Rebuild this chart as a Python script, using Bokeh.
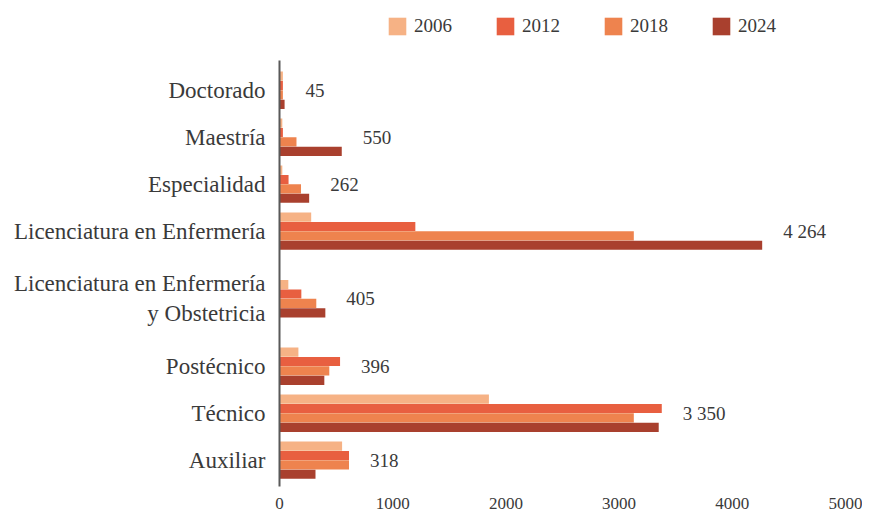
from bokeh.plotting import figure
from bokeh.layouts import column
from bokeh.models import Range1d, FixedTicker, Legend, LegendItem, ColumnDataSource
from bokeh.embed import file_html
from bokeh.resources import INLINE
from bokeh.core.properties import value

categories = ["Doctorado", "Maestría", "Especialidad", "Licenciatura en Enfermería",
              "Licenciatura en Enfermería\ny Obstetricia", "Postécnico", "Técnico", "Auxiliar"]
years = ["2006", "2012", "2018", "2024"]
v2006 = [30, 25, 25, 280, 78, 167, 1850, 553]
v2012 = [30, 30, 80, 1200, 193, 535, 3377, 614]
v2018 = [30, 150, 190, 3130, 325, 440, 3130, 614]
v2024 = [45, 550, 262, 4264, 405, 396, 3350, 318]
x_ticks = [0, 1000, 2000, 3000, 4000, 5000]

series = [v2006, v2012, v2018, v2024]
colors = ["#F6B285", "#E85F40", "#EE834E", "#A9402E"]
FONT = "Liberation Serif"
TXT = "#3a3a3a"

# category centres: two-line labels get a taller slot
positions = []
edge = -0.5
for c in categories:
    slot = 1.0 if "\n" not in c else 1.875
    positions.append(edge + slot / 2)
    edge += slot

W = 862
LEG_H = 60
FRAME_LEFT = 279

# ---- legend strip (its frame is aligned with the chart's frame by the column) ----
lg = figure(width=W, height=LEG_H, x_range=Range1d(0, 1), y_range=Range1d(0, 1),
            output_backend="svg", toolbar_location=None,
            x_axis_location=None, y_axis_location=None,
            min_border_left=FRAME_LEFT, min_border_right=17,
            min_border_top=0, min_border_bottom=0)
lg.grid.visible = False
lg.outline_line_color = None
# zero-width swatch carriers (nothing visible is drawn in the strip)
dummies = [lg.hbar(y=[0.5], left=[0], right=[0], height=0.1, fill_color=col, line_color=None)
           for col in colors]
legend = Legend(items=[LegendItem(label=yr, renderers=[r]) for yr, r in zip(years, dummies)],
                orientation="horizontal", location=(386 - FRAME_LEFT, 23),
                padding=0, margin=0, spacing=0,
                glyph_width=22, glyph_height=22, label_width=80, label_height=22,
                label_standoff=6, border_line_color=None, background_fill_alpha=0,
                label_text_font=FONT, label_text_font_size="19px", label_text_color=TXT)
lg.add_layout(legend)

# ---- main chart ----
pad_top, pad_bot = 0.633, 0.56
p = figure(width=W, height=519 - 8 - LEG_H,
           x_range=Range1d(0, 5000),
           y_range=Range1d(positions[-1] + pad_bot, positions[0] - pad_top),
           output_backend="svg", toolbar_location=None,
           min_border_left=FRAME_LEFT, min_border_right=17,
           min_border_top=0, min_border_bottom=22)

bar_h = 0.195
offsets = [-0.3, -0.1, 0.1, 0.3]
for vals, col, off in zip(series, colors, offsets):
    src = ColumnDataSource(dict(y=[pp + off for pp in positions], right=vals))
    p.hbar(y="y", left=0, right="right", height=bar_h, source=src,
           fill_color=col, line_color=None)

# value labels (2024) next to the longest bar of each group
maxvals = [max(a, b, c, d) for a, b, c, d in zip(*series)]
labels = [f"{v:,}".replace(",", " ") for v in v2024]
lsrc = ColumnDataSource(dict(x=maxvals, y=positions, t=labels))
p.text(x="x", y="y", text="t", source=lsrc, x_offset=21,
       text_baseline="middle", text_align="left",
       text_font=value(FONT), text_font_size="19px", text_color=TXT)

p.yaxis.ticker = FixedTicker(ticks=positions)
p.yaxis.major_label_overrides = {pp: c for pp, c in zip(positions, categories)}
p.yaxis.major_tick_line_color = None
p.yaxis.minor_tick_line_color = None
p.yaxis.axis_line_color = "#595959"
p.yaxis.axis_line_width = 2
p.yaxis.major_label_standoff = 8
p.yaxis.major_label_text_font = FONT
p.yaxis.major_label_text_font_size = "23px"
p.yaxis.major_label_text_color = TXT
p.yaxis.major_label_text_line_height = 1.2

p.xaxis.ticker = FixedTicker(ticks=x_ticks)
p.xaxis.axis_line_color = None
p.xaxis.major_tick_line_color = None
p.xaxis.minor_tick_line_color = None
p.xaxis.major_label_standoff = 5
p.xaxis.major_label_text_font = FONT
p.xaxis.major_label_text_font_size = "17px"
p.xaxis.major_label_text_color = TXT

p.grid.visible = False
p.outline_line_color = None

layout = column(lg, p, spacing=0)
open("out.html", "w").write(file_html(layout, INLINE))
